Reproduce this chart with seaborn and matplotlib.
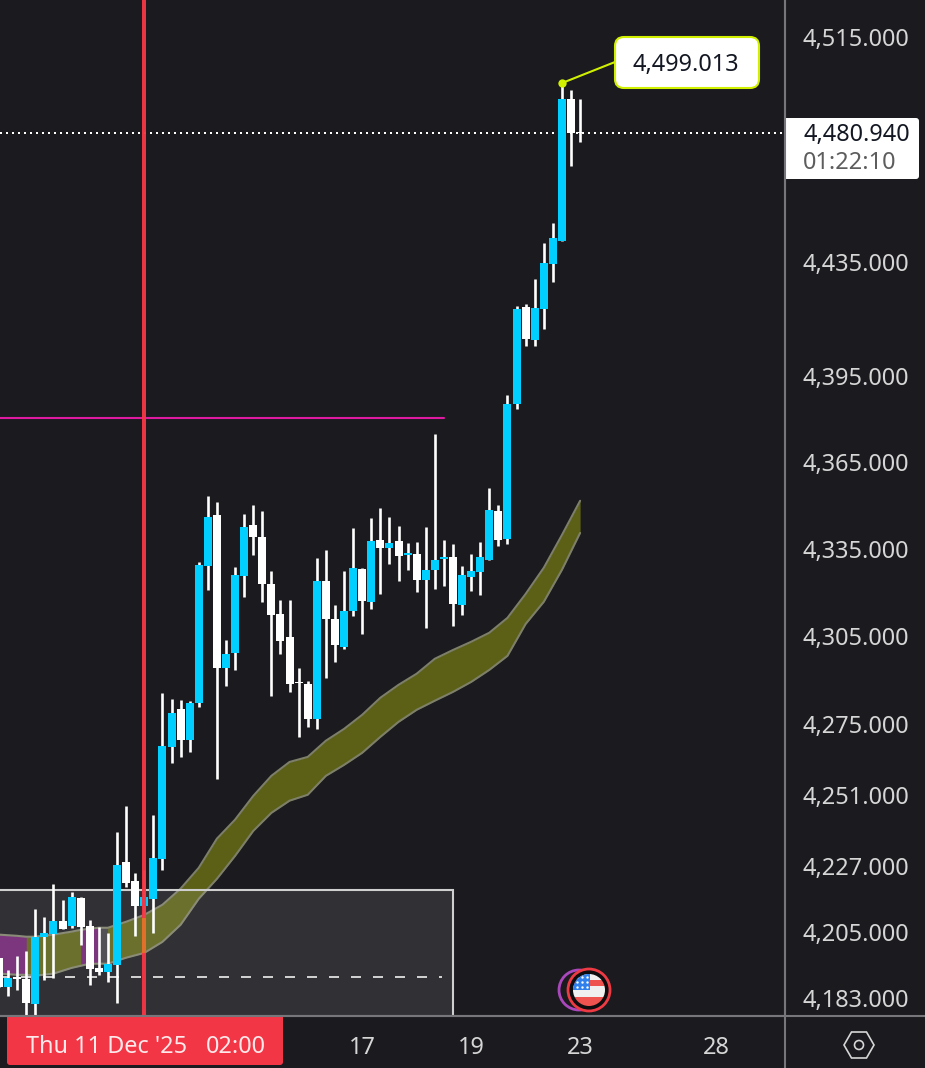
import matplotlib
matplotlib.use('Agg')
import matplotlib.pyplot as plt
from matplotlib.patches import Rectangle, FancyBboxPatch, Circle, RegularPolygon
import pandas as pd
import seaborn as sns

# candles, one per 4h bar, W = white (down) B = blue (up)
candle_dir = list("WBWWBBBWBWWWBBWWBBBBWBBBWBBBWWWWWWWBWWBBWBWBWBWBBBWBBBBWBBWBBBBWW")
high = [4196.4,4192.4,4197.0,4198.7,4212.8,4210.1,4221.1,4215.8,4218.4,4216.8,4209.1,4206.7,4204.7,4238.6,4247.4,4224.8,4225.8,4244.3,4285.7,4283.6,4283.3,4283.0,4330.5,4353.3,4351.2,4303.8,4328.8,4347.1,4350.2,4348.1,4327.4,4317.5,4317.5,4294.2,4289.8,4331.9,4334.7,4315.8,4327.4,4342.2,4328.5,4345.7,4349.1,4346.0,4342.9,4337.1,4337.4,4342.6,4374.8,4338.1,4336.7,4329.1,4333.3,4337.4,4356.1,4350.2,4388.4,4419.5,4420.2,4429.0,4441.7,4448.8,4498.5,4496.0,4492.8]
low = [4186.7,4183.7,4185.7,4177.1,4177.1,4189.1,4189.7,4206.1,4206.4,4200.7,4187.4,4190.7,4188.4,4181.4,4220.1,4203.7,4210.1,4204.7,4225.8,4261.9,4263.9,4265.6,4280.9,4320.9,4256.5,4288.1,4293.5,4318.5,4332.9,4316.8,4284.7,4299.0,4286.0,4270.7,4274.1,4273.4,4290.8,4296.3,4300.7,4312.0,4305.8,4314.4,4319.5,4329.8,4324.0,4327.8,4320.2,4307.9,4321.2,4322.3,4308.6,4312.3,4320.6,4319.2,4331.2,4336.0,4336.7,4383.5,4405.5,4405.5,4411.4,4428.0,4442.4,4469.0,4477.5]
body_top = [4196.4,4189.7,4190.1,4189.4,4203.4,4204.7,4208.7,4208.7,4216.8,4216.4,4207.1,4193.0,4194.4,4227.5,4228.5,4222.1,4216.8,4229.9,4267.7,4278.9,4280.2,4282.3,4329.5,4346.0,4346.7,4299.0,4326.1,4342.6,4343.3,4339.1,4323.0,4312.7,4304.8,4289.4,4288.7,4324.0,4324.0,4311.0,4313.7,4328.5,4328.1,4337.8,4338.1,4337.1,4337.8,4333.6,4333.3,4327.8,4331.2,4332.2,4332.2,4326.1,4327.4,4332.2,4348.5,4348.1,4385.2,4418.5,4419.2,4418.8,4434.6,4443.5,4492.8,4492.8,4481.0]
body_bottom = [4186.7,4186.7,4189.4,4181.4,4181.1,4203.4,4204.4,4206.1,4207.1,4206.7,4192.7,4191.7,4191.7,4194.0,4221.5,4213.8,4213.8,4216.1,4229.5,4267.3,4269.7,4269.7,4282.3,4329.1,4294.2,4294.2,4299.3,4325.7,4339.1,4323.0,4312.3,4303.4,4288.7,4289.1,4276.8,4276.8,4311.0,4302.1,4301.4,4313.7,4317.1,4316.8,4335.3,4335.3,4332.6,4332.9,4324.3,4324.3,4327.8,4331.6,4316.1,4315.8,4325.4,4327.1,4331.2,4338.1,4338.4,4385.2,4407.9,4407.6,4418.5,4434.3,4442.4,4480.7,4480.7]

# olive cloud
band_idx = [0,2,3,4,6,8,9,10,11,12] + list(range(14, 66, 2))
band_up = [4204.1,4203.7,4203.4,4203.4,4204.1,4205.1,4205.7,4206.1,4206.4,4206.4,4208.4,4210.7,4214.1,4219.5,4226.5,4236.3,4242.7,4250.7,4257.5,4262.2,4263.9,4269.4,4273.4,4278.2,4284.0,4288.4,4292.2,4297.3,4300.3,4303.1,4306.2,4311.3,4319.5,4328.5,4339.8,4351.6]
band_lo = [4191.1,4190.7,4190.7,4190.4,4191.1,4193.0,4193.7,4194.4,4194.4,4194.4,4196.4,4198.0,4201.7,4207.4,4216.1,4222.8,4230.5,4238.9,4245.0,4249.1,4251.1,4257.5,4261.2,4265.3,4270.7,4275.8,4279.9,4283.0,4286.0,4289.4,4293.5,4298.3,4309.2,4316.8,4327.8,4340.5]

price_ticks = [4515, 4435, 4395, 4365, 4335, 4305, 4275, 4251, 4227, 4205, 4183]
date_idx = [40, 52, 64, 79]
date_labels = ['17', '19', '23', '28']

last_price = 4480.7
peak_idx, peak_price = 62, 4498.5
magenta_price = 4380.4
zone_top, zone_mid = 4219.1, 4190.1
cross_idx = 16

W, H = 925, 1068
BG = '#1a1a1f'
TXT = '#d6d6d6'
BLUE = '#00cfff'
RED = '#f23645'
LIME = '#d0f000'
GREY = '#77777b'
FONT = 'Noto Sans'
FS = 16.9

sns.set_theme(style='dark', rc={'axes.facecolor': BG, 'figure.facecolor': BG})
plt.rcParams['font.family'] = [FONT, 'DejaVu Sans']

fig = plt.figure(figsize=(W/100, H/100), dpi=100)
ax = fig.add_axes([0, 52/H, 785/W, 1016/H])
ax.set_yscale('log')

# wicks
wicks = pd.DataFrame({
    'i': [i for i in range(len(high)) for _ in (0, 1)],
    'p': [v for pair in zip(high, low) for v in pair],
})
sns.lineplot(data=wicks, x='i', y='p', units='i', estimator=None, color='white',
             lw=1.9, ax=ax, zorder=4, legend=False, solid_capstyle='butt')

# bodies
idx = list(range(len(high)))
heights = [t-b for t, b in zip(body_top, body_bottom)]
cols = [BLUE if d == 'B' else 'white' for d in candle_dir]
ax.bar(idx, heights, bottom=body_bottom, width=0.88, color=cols, lw=0, zorder=5)

# cloud, purple where it flips
bd = pd.DataFrame({'i': band_idx, 'up': band_up, 'lo': band_lo})
ax.fill_between(bd.i, bd.lo, bd.up, color='#5b6016', lw=0, zorder=1)
m = bd.i <= 3
ax.fill_between(bd.i[m], bd.lo[m], bd.up[m], color='#6e2070', lw=0, zorder=1.1)
m = (bd.i >= 9) & (bd.i <= 11)
ax.fill_between(bd.i[m], bd.lo[m], bd.up[m], color='#6e2070', lw=0, zorder=1.1)
m = (bd.i >= 11) & (bd.i <= 12)
ax.fill_between(bd.i[m], bd.lo[m], bd.up[m], color='#3f3f43', lw=0, zorder=1.1)
sns.lineplot(data=bd, x='i', y='up', color='#7d7f68', lw=1.5, ax=ax, zorder=1.2)
sns.lineplot(data=bd, x='i', y='lo', color='#7d7f68', lw=1.5, ax=ax, zorder=1.2)

# zone box, levels
ax.set_xlim(1/9.08, 786/9.08)
ax.set_ylim(4177.0, 4528.3)
ax.add_patch(Rectangle((-1, 4170), 51, zone_top-4170, fc=(1, 1, 1, 0.1), ec='#cfcfcf',
                       lw=1.5, zorder=2))
ax.plot([-0.77, 48.8], [zone_mid, zone_mid], color='#cfcfcf', lw=1.44, dashes=(5, 6), zorder=2.5)
ax.plot([-1, 49], [magenta_price, magenta_price], color='#de1aa0', lw=1.5, zorder=3)
ax.axhline(last_price, color='white', lw=1.44, dashes=(1, 2), zorder=3)
ax.axvline(cross_idx, color=RED, lw=2.9, alpha=0.97, zorder=6)
ci = band_idx.index(cross_idx)
ax.vlines(cross_idx, band_lo[ci], band_up[ci]-1, color='#e0702a', lw=2.9, zorder=6.5)

# peak callout
sns.scatterplot(x=[peak_idx], y=[peak_price], color=LIME, s=36, lw=0, ax=ax, zorder=7)
ax.annotate('', xy=(peak_idx, peak_price), xytext=(615, H-62), textcoords='figure pixels',
            arrowprops=dict(arrowstyle='-', color=LIME, lw=1.5, shrinkA=0, shrinkB=0), zorder=7)

# axes cosmetics
ax.set_xlabel('')
ax.set_ylabel('')
ax.yaxis.tick_right()
ax.set_yticks(price_ticks)
ax.set_yticklabels([f'{p:,.3f}' for p in price_ticks], fontsize=FS, color=TXT)
ax.minorticks_off()
ax.set_xticks(date_idx)
ax.set_xticklabels(date_labels, fontsize=FS, color=TXT)
ax.tick_params(axis='y', length=0, pad=12.5)
ax.tick_params(axis='x', length=0, pad=14.5)
ax.grid(False)
for s in ('top', 'left'):
    ax.spines[s].set_visible(False)
for s in ('right', 'bottom'):
    ax.spines[s].set_color(GREY)
    ax.spines[s].set_linewidth(1.5)
# bottom/right panel lines run to the figure edge
fig.add_artist(plt.Line2D([0, 1], [52/H, 52/H], color=GREY, lw=1.5))
fig.add_artist(plt.Line2D([785/W, 785/W], [0, 1], color=GREY, lw=1.5))

# overlay in pixel coords for the labels
ov = fig.add_axes([0, 0, 1, 1], facecolor='none')
ov.set_xlim(0, W)
ov.set_ylim(H, 0)
ov.axis('off')

ov.add_patch(FancyBboxPatch((615, 37), 144, 51, boxstyle='round,pad=0,rounding_size=9',
                            fc='white', ec=LIME, lw=1.5))
ov.text(686, 65, '4,499.013', color='#131722', fontsize=FS, ha='center', va='center')

ov.add_patch(FancyBboxPatch((786, 118), 133, 61, boxstyle='round,pad=0,rounding_size=3',
                            fc='white', ec='none'))
ov.add_patch(Rectangle((786, 118), 10, 61, fc='white', ec='none'))
ov.text(803, 135, '4,480.940', color='#131722', fontsize=FS, ha='left', va='center')
ov.text(803, 163, '01:22:10', color='#5d5d5d', fontsize=FS, ha='left', va='center')

ov.add_patch(FancyBboxPatch((7, 1016), 276, 49, boxstyle='round,pad=0,rounding_size=3',
                            fc=RED, ec='none'))
ov.add_patch(Rectangle((7, 1016), 276, 10, fc=RED, ec='none'))
ov.text(26, 1047, "Thu 11 Dec '25", color='#ffe9eb', fontsize=FS, ha='left', va='center')
ov.text(206, 1047, '02:00', color='#ffe9eb', fontsize=FS, ha='left', va='center')

# settings hexagon
ov.add_patch(RegularPolygon((859, 1045), 6, radius=15, orientation=3.14159/2, fc='none', ec=TXT, lw=1.2))
ov.add_patch(Circle((859, 1045), 4.5, fc='none', ec=TXT, lw=1.2))

# event icon with flag
ov.add_patch(Circle((579, 990), 20, fc=BG, ec='#ab47bc', lw=2))
ov.add_patch(Circle((589, 990), 21, fc='#0d0d10', ec='#ee3a43', lw=2))
clip = Circle((589, 990), 16, transform=ov.transData)
for y0, y1, c in [(973, 980, '#f0f0f0'), (980, 986, '#ef5350'), (986, 992, '#f0f0f0'),
                  (992, 997, '#f0f0f0'), (997, 1007, '#ef5350')]:
    r = Rectangle((572, y0), 34, y1-y0, fc=c, ec='none')
    ov.add_patch(r)
    r.set_clip_path(clip)
r = Rectangle((572, 973), 18, 17, fc='#2f80ed', ec='none')
ov.add_patch(r)
r.set_clip_path(clip)
d = ov.scatter([577, 582, 587, 577, 582, 587, 577, 582, 587], [977, 977, 977, 982, 982, 982, 987, 987, 987],
               s=3, color='white', lw=0)
d.set_clip_path(clip)

fig.savefig('out.png', dpi=100, facecolor=BG)
